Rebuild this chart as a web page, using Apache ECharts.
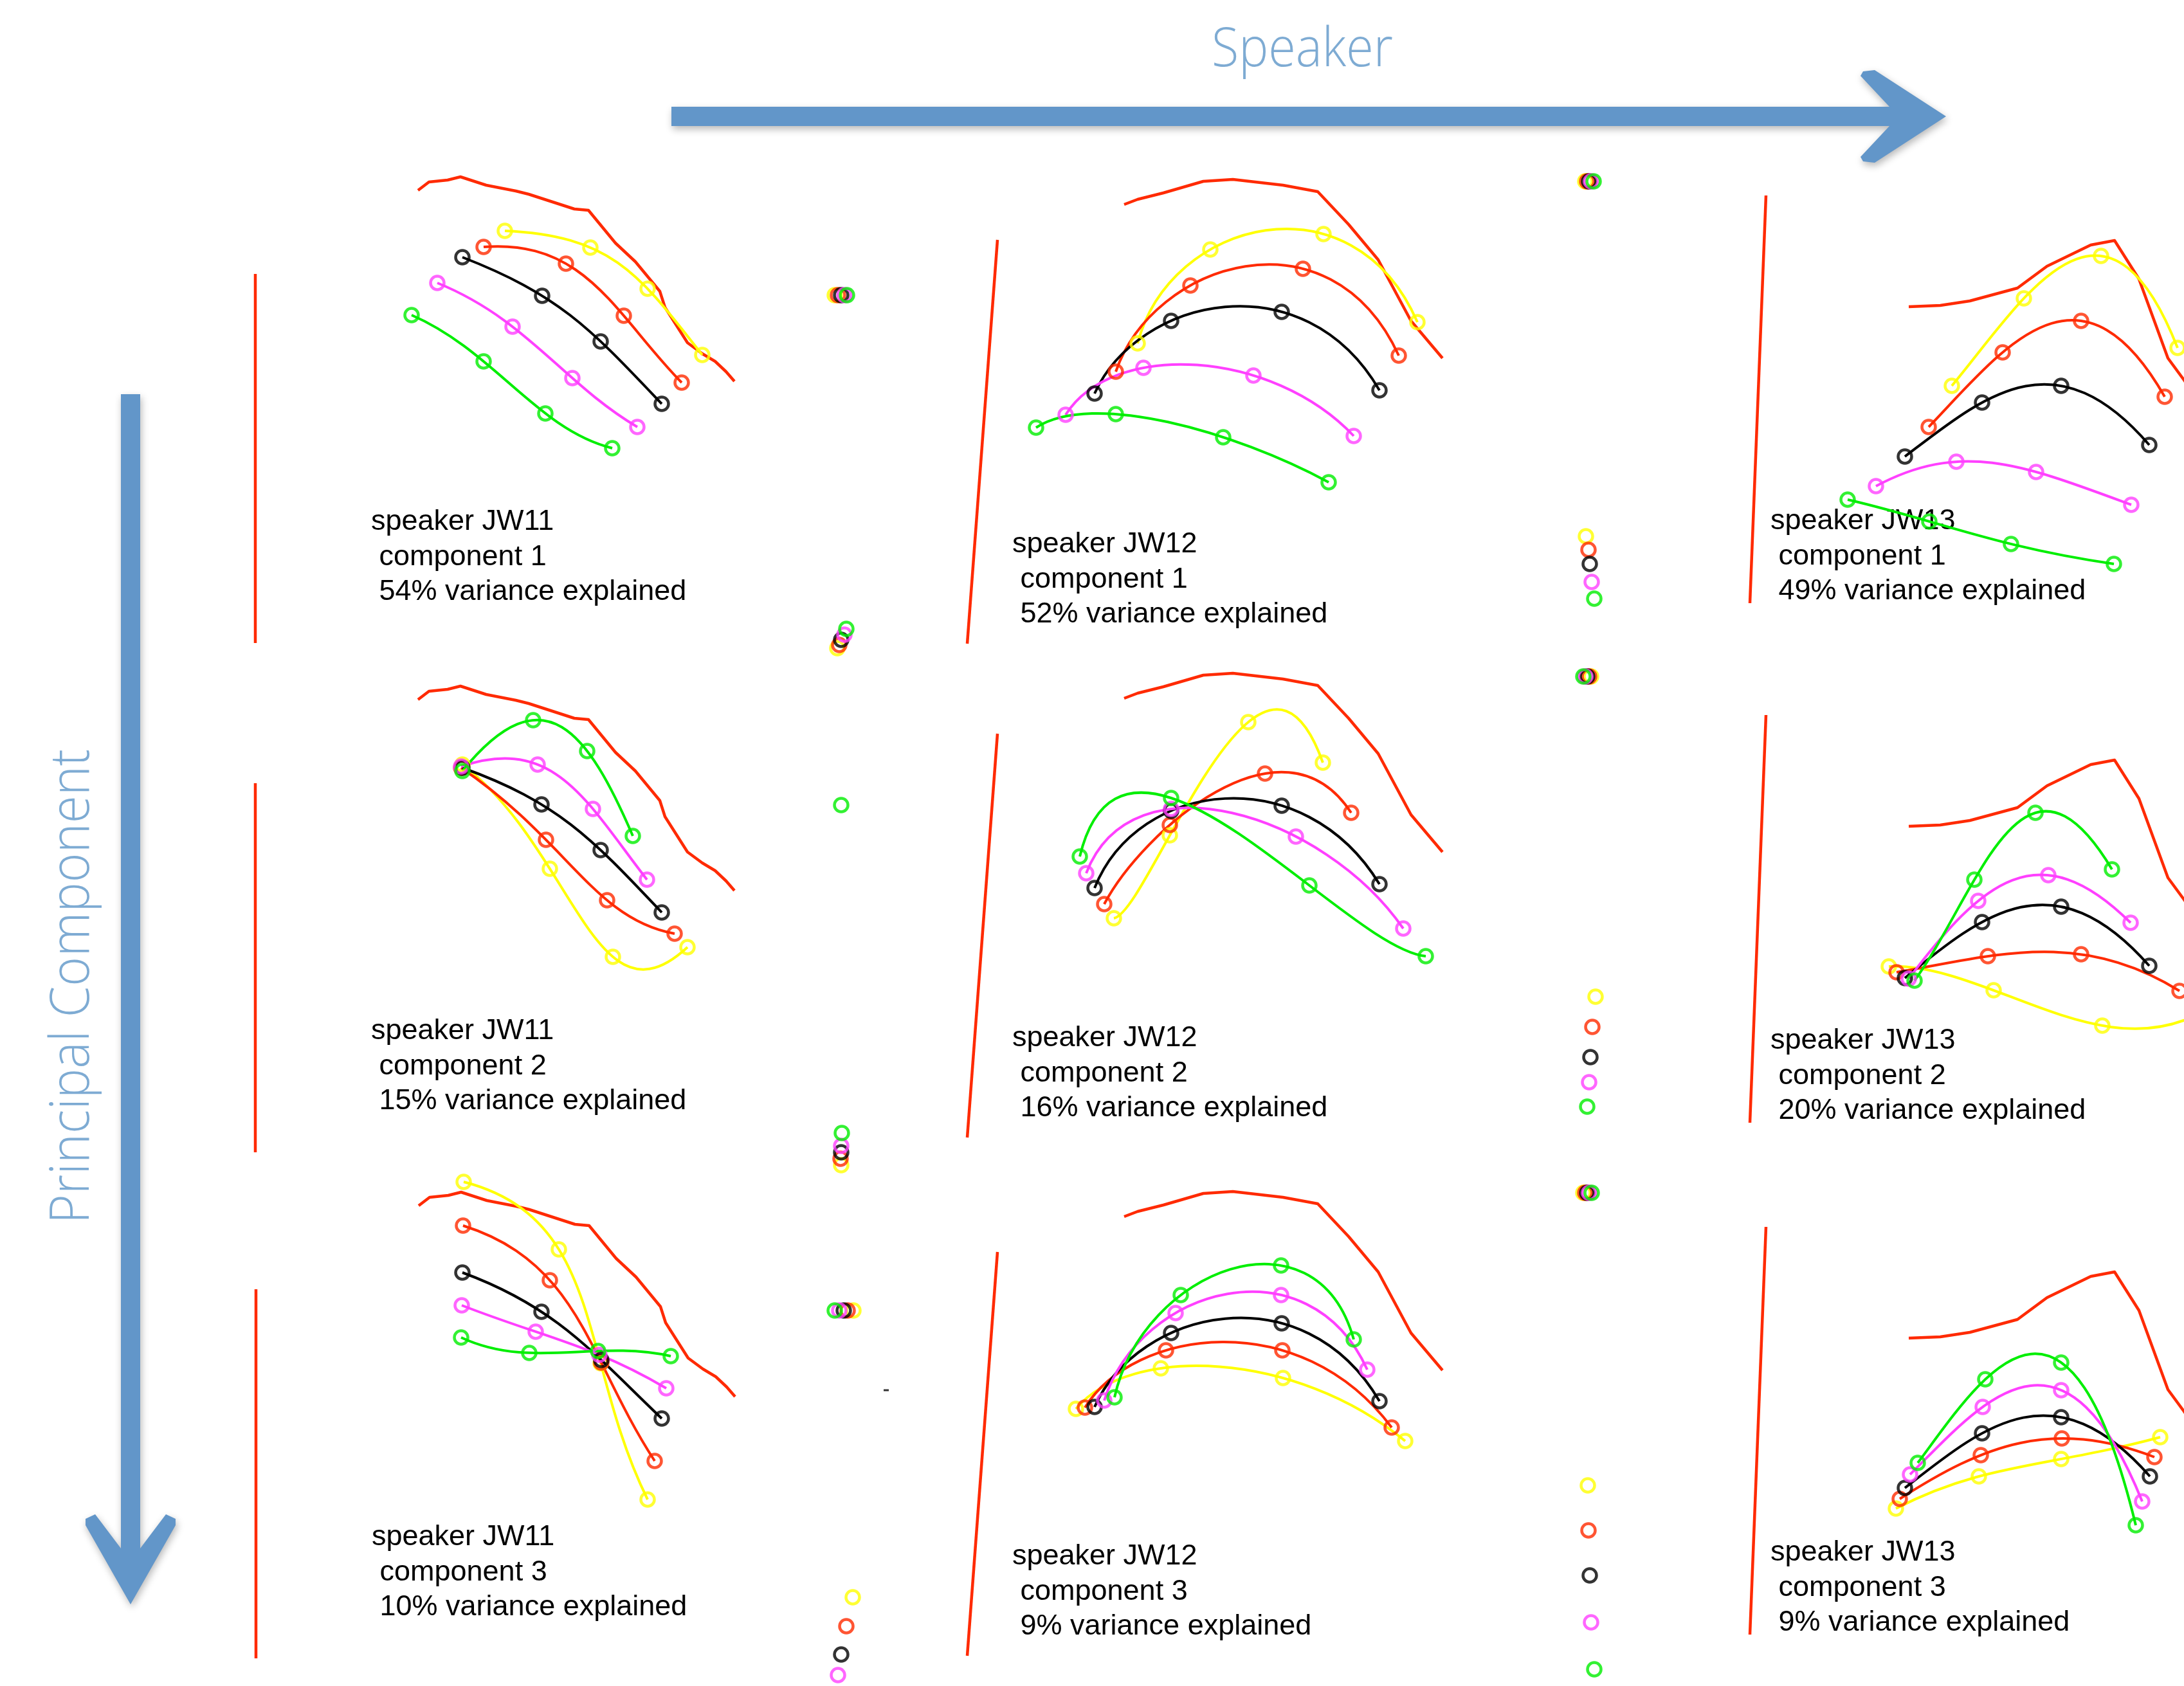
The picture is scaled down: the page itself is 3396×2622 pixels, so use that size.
<!DOCTYPE html>
<html>
<head>
<meta charset="utf-8">
<title>Tongue shape principal components by speaker</title>
<script src="https://cdn.jsdelivr.net/npm/echarts@6/dist/echarts.min.js"></script>
<style>
  html, body { margin: 0; padding: 0; background: #ffffff; }
  #chart { width: 3396px; height: 2622px; }
</style>
</head>
<body>
<div id="chart"></div>
<script>
// ---------------------------------------------------------------------------
// Data: tongue contours (4 fleshpoints) reconstructed from each principal
// component at -2, -1, 0, +1, +2 SD, plus each speaker's palate trace and
// rear pharyngeal reference line. Units are panel-local (pixels of the plot).
// ---------------------------------------------------------------------------
const SPEAKERS = ['JW11', 'JW12', 'JW13'];
const COMPONENTS = [1, 2, 3];
const SD_LEVELS = ['+2 SD', '+1 SD', 'mean', '-1 SD', '-2 SD'];

const VARIANCE_JW11 = [54, 15, 10];
const VARIANCE_JW12 = [52, 16, 9];
const VARIANCE_JW13 = [49, 20, 9];

const AXIS_TITLE_X = 'Speaker';
const AXIS_TITLE_Y = 'Principal Component';

// palate traces
const PALATE_JW11 = [[253,-130],[270,-143],[299,-146],[319,-151],[359,-138],[405,-129],[425,-124],[496,-101],[518,-99],[560,-48],[591,-19],[629,27],[637,52],[672,107],[695,124],[715,136],[732,152],[745,167]];
const PALATE_JW12 = [[197,-55],[218,-63],[258,-73],[320,-91],[366,-94],[444,-85],[498,-75],[546,-24],[592,31],[643,126],[692,184]];
const PALATE_JW13 = [[222,173],[271,171],[317,164],[391,144],[437,110],[505,77],[542,70],[580,130],[625,253],[650,287],[668,314]];

// rear reference lines
const BACK_JW11 = [[0,0],[0,574]];
const BACK_JW12 = [[0,0],[-47,628]];
const BACK_JW13 = [[0,0],[-25,634]];

// contours, one row per SD level (+2, +1, mean, -1, -2)
const JW11_PC1 = [
  [[388,-67],[521,-41],[610,23],[695,126]],
  [[355,-42],[483,-16],[573,65],[663,169]],
  [[322,-26],[446,34],[537,105],[632,202]],
  [[283,14],[400,82],[493,162],[594,238]],
  [[243,64],[355,136],[451,217],[555,271]]
];
const JW11_PC2 = [
  [[322,-29],[458,133],[556,270],[672,255]],
  [[320,-24],[452,88],[547,182],[652,234]],
  [[322,-24],[445,33],[537,104],[632,201]],
  [[320,-26],[439,-29],[525,40],[609,150]],
  [[322,-19],[432,-98],[516,-50],[587,82]]
];
const JW11_PC3 = [
  [[323,-167],[471,-62],[536,115],[609,327]],
  [[322,-99],[457,-14],[537,114],[620,267]],
  [[321,-26],[444,35],[537,110],[631,201]],
  [[320,25],[435,66],[534,102],[638,154]],
  [[319,75],[425,99],[532,96],[645,104]]
];
const JW12_PC1 = [
  [[218,161],[331,15],[507,-9],[653,128]],
  [[184,205],[300,71],[475,45],[624,180]],
  [[151,239],[270,126],[442,112],[594,234]],
  [[106,272],[227,199],[398,211],[554,305]],
  [[60,292],[184,271],[351,307],[515,377]]
];
const JW12_PC2 = [
  [[181,287],[268,158],[390,-18],[506,45]],
  [[166,265],[268,142],[416,62],[550,123]],
  [[151,240],[270,120],[442,112],[594,234]],
  [[138,217],[270,117],[464,160],[631,303]],
  [[128,191],[270,100],[485,236],[666,346]]
];
const JW12_PC3 = [
  [[122,244],[254,181],[444,196],[634,294]],
  [[136,242],[262,153],[443,153],[613,273]],
  [[151,241],[270,126],[442,111],[594,232]],
  [[166,231],[277,95],[441,67],[575,183]],
  [[182,226],[285,67],[441,21],[554,136]]
];
const JW13_PC1 = [
  [[289,296],[401,160],[521,94],[640,237]],
  [[253,360],[368,244],[490,195],[620,313]],
  [[216,406],[336,322],[459,296],[596,388]],
  [[171,452],[296,414],[420,430],[568,481]],
  [[127,473],[254,507],[381,542],[541,573]]
];
const JW13_PC2 = [
  [[191,391],[354,428],[523,483],[690,455]],
  [[203,400],[345,375],[490,372],[643,429]],
  [[216,409],[336,322],[459,298],[596,390]],
  [[222,410],[330,289],[439,249],[567,323]],
  [[231,413],[324,256],[419,152],[538,240]]
];
const JW13_PC3 = [
  [[202,438],[331,388],[459,361],[613,327]],
  [[208,423],[334,355],[460,329],[604,358]],
  [[216,406],[336,321],[459,296],[597,388]],
  [[224,385],[337,280],[459,254],[585,427]],
  [[236,367],[341,237],[459,211],[575,464]]
];

// isolated points lying outside the contour area: [x, y, SD level index]
const JW11_PC1_OUTLIERS = [[901,33,0],[906,33,1],[911,33,2],[916,33,3],[920,33,4],[905,582,0],[908,577,1],[911,569,2],[916,561,3],[919,552,4]];
const JW11_PC2_OUTLIERS = [[911,34,4],[911,594,0],[910,584,1],[911,574,2],[911,564,3],[912,544,4]];
const JW11_PC3_OUTLIERS = [[929,33,0],[920,33,1],[914,33,2],[907,33,3],[900,33,4],[928,479,0],[918,524,1],[910,568,2],[905,600,3]];
const JW11_PC3_DASH = [[980,157]];
const JW12_PC1_OUTLIERS = [[914,-91,0],[917,-91,1],[920,-91,2],[923,-91,3],[927,-91,4],[915,461,0],[919,482,1],[921,504,2],[924,532,3],[928,558,4]];
const JW12_PC2_OUTLIERS = [[923,-89,0],[920,-89,1],[917,-89,2],[914,-89,3],[911,-89,4],[930,409,0],[925,456,1],[922,503,2],[920,542,3],[917,580,4]];
const JW12_PC3_OUTLIERS = [[911,-92,0],[914,-92,1],[917,-92,2],[920,-92,3],[924,-92,4],[918,363,0],[919,433,1],[921,503,2],[923,576,3],[928,649,4]];
const JW13_PC1_OUTLIERS = [];
const JW13_PC2_OUTLIERS = [];
const JW13_PC3_OUTLIERS = [];

// ---------------------------------------------------------------------------
// Layout and styles
// ---------------------------------------------------------------------------
const PANEL_ORIGIN = {
  JW11: [[397, 426], [397, 1218], [398, 2005]],
  JW12: [[1551, 373], [1551, 1141], [1551, 1947]],
  JW13: [[2746, 304], [2746, 1112], [2746, 1908]]
};
const LABEL_OFFSET = { JW11: [180, 386], JW12: [23, 474], JW13: [7, 507] };
const LABEL_LINE_GAP = 54.5;
// panel axis extents (1 unit = 1 px); kept inside the canvas so scales stay 1:1
const X_RANGE = { JW11: [-100, 1000], JW12: [-100, 1000], JW13: [-100, 650] };
const Y_RANGE = [-200, 615];

const SD_COLORS = ['#ffff00', '#ff2a00', '#000000', '#ff40ff', '#00ee00'];
const PALATE_COLOR = '#ff2a00';
const ARROW_COLOR = '#6296c9';
const TITLE_COLOR = '#7eabd3';
const LABEL_FONT = '45px "Liberation Sans", Arial, Helvetica, sans-serif';
const TITLE_FONT_SIZE = 84;
const TITLE_FONT = '300 ' + TITLE_FONT_SIZE + 'px "Open Sans", Lato, sans-serif';
const CURVE_WIDTH = 4;
const MARKER_SIZE = 21;
const MARKER_BORDER = 4.5;

const PALATES = { JW11: PALATE_JW11, JW12: PALATE_JW12, JW13: PALATE_JW13 };
const BACKS = { JW11: BACK_JW11, JW12: BACK_JW12, JW13: BACK_JW13 };
const VARIANCES = { JW11: VARIANCE_JW11, JW12: VARIANCE_JW12, JW13: VARIANCE_JW13 };
const CURVES = {
  JW11: [JW11_PC1, JW11_PC2, JW11_PC3],
  JW12: [JW12_PC1, JW12_PC2, JW12_PC3],
  JW13: [JW13_PC1, JW13_PC2, JW13_PC3]
};
const OUTLIERS = {
  JW11: [JW11_PC1_OUTLIERS, JW11_PC2_OUTLIERS, JW11_PC3_OUTLIERS],
  JW12: [JW12_PC1_OUTLIERS, JW12_PC2_OUTLIERS, JW12_PC3_OUTLIERS],
  JW13: [JW13_PC1_OUTLIERS, JW13_PC2_OUTLIERS, JW13_PC3_OUTLIERS]
};

function textScale(text, font, targetWidth) {
  const ctx = document.createElement('canvas').getContext('2d');
  ctx.font = font;
  const w = ctx.measureText(text).width;
  return w > 0 ? targetWidth / w : 1;
}

// Derivative at t of the interpolating polynomial through (ts[i], vs[i]).
function polySlope(ts, vs, t) {
  let s = 0;
  for (let i = 0; i < ts.length; i++) {
    let d = 0;
    for (let j = 0; j < ts.length; j++) {
      if (j === i) continue;
      let term = 1 / (ts[i] - ts[j]);
      for (let m = 0; m < ts.length; m++) {
        if (m !== i && m !== j) term *= (t - ts[m]) / (ts[i] - ts[m]);
      }
      d += term;
    }
    s += vs[i] * d;
  }
  return s;
}

// Custom renderer: parametric cubic (uniform parameter, one step per
// fleshpoint) through the four points, drawn as one exact Bezier segment
// from the coordinates mapped by the panel's axes.
function splineRenderer(pts, color) {
  return function (params, api) {
    if (params.dataIndex !== 0) return null;
    const c = pts.map(function (p) { return api.coord(p); });
    const ts = c.map(function (p, i) { return i; });
    const T = ts[ts.length - 1];
    const xs = c.map(function (p) { return p[0]; });
    const ys = c.map(function (p) { return p[1]; });
    const h = T / 3;
    const p0 = c[0], p3 = c[c.length - 1];
    const cp1 = [p0[0] + h * polySlope(ts, xs, 0), p0[1] + h * polySlope(ts, ys, 0)];
    const cp2 = [p3[0] - h * polySlope(ts, xs, T), p3[1] - h * polySlope(ts, ys, T)];
    return {
      type: 'bezierCurve',
      shape: { x1: p0[0], y1: p0[1], cpx1: cp1[0], cpy1: cp1[1], cpx2: cp2[0], cpy2: cp2[1], x2: p3[0], y2: p3[1] },
      style: { stroke: color, lineWidth: CURVE_WIDTH, fill: null }
    };
  };
}

const grid = [], xAxis = [], yAxis = [], series = [], graphic = [];

SPEAKERS.forEach(function (spk) {
  COMPONENTS.forEach(function (pc, r) {
    const i = grid.length;
    const origin = PANEL_ORIGIN[spk][r];
    const ox = origin[0], oy = origin[1];
    const xr = X_RANGE[spk];
    grid.push({ left: ox + xr[0], top: oy + Y_RANGE[0], width: xr[1] - xr[0], height: Y_RANGE[1] - Y_RANGE[0], containLabel: false });
    xAxis.push({ gridIndex: i, type: 'value', min: xr[0], max: xr[1], show: false });
    yAxis.push({ gridIndex: i, type: 'value', min: Y_RANGE[0], max: Y_RANGE[1], inverse: true, show: false });

    const base = { xAxisIndex: i, yAxisIndex: i, clip: false, silent: true, animation: false };

    series.push(Object.assign({}, base, {
      name: spk + ' palate', type: 'line', data: PALATES[spk], symbol: 'none',
      lineStyle: { color: PALATE_COLOR, width: 4.5, join: 'round' }, z: 2
    }));
    series.push(Object.assign({}, base, {
      name: spk + ' rear', type: 'line', data: BACKS[spk], symbol: 'none',
      lineStyle: { color: PALATE_COLOR, width: 4.5 }, z: 2
    }));

    CURVES[spk][r].forEach(function (pts, k) {
      const label = spk + ' PC' + pc + ' ' + SD_LEVELS[k];
      series.push(Object.assign({}, base, {
        name: label + ' contour', type: 'custom', data: pts,
        encode: { x: 0, y: 1 },
        renderItem: splineRenderer(pts, SD_COLORS[k]), z: 3
      }));
      series.push(Object.assign({}, base, {
        name: label, type: 'scatter', data: pts, symbol: 'circle', symbolSize: MARKER_SIZE,
        itemStyle: { color: 'rgba(0,0,0,0)', borderColor: SD_COLORS[k], borderWidth: MARKER_BORDER },
        z: 4
      }));
    });

    const out = OUTLIERS[spk][r];
    if (out.length) {
      series.push(Object.assign({}, base, {
        name: spk + ' PC' + pc + ' outliers', type: 'scatter', symbol: 'circle', symbolSize: MARKER_SIZE,
        data: out.map(function (d) {
          return { value: [d[0], d[1]], itemStyle: { borderColor: SD_COLORS[d[2]] } };
        }),
        itemStyle: { color: 'rgba(0,0,0,0)', borderWidth: MARKER_BORDER }, z: 4
      }));
    }
    if (spk === 'JW11' && pc === 3) {
      series.push(Object.assign({}, base, {
        name: 'dash', type: 'scatter', symbol: 'rect', symbolSize: [8, 3],
        data: JW11_PC3_DASH, itemStyle: { color: '#000000' }
      }));
    }

    // panel caption
    const lab = LABEL_OFFSET[spk];
    const lines = ['speaker ' + spk, ' component ' + pc, ' ' + VARIANCES[spk][r] + '% variance explained'];
    lines.forEach(function (t, j) {
      graphic.push({
        type: 'text', x: ox + lab[0], y: oy + lab[1] + j * LABEL_LINE_GAP, silent: true,
        style: { text: t, font: LABEL_FONT, fill: '#000000',
                 textAlign: 'left', textVerticalAlign: 'middle', align: 'left', verticalAlign: 'middle' }
      });
    });
  });
});

// direction arrows with their titles
const arrowShadow = { shadowBlur: 12, shadowColor: 'rgba(0,0,0,0.28)', shadowOffsetX: 2, shadowOffsetY: 5 };
graphic.push({
  type: 'polygon', silent: true,
  shape: { points: [[1044,166],[2938,166],[2893,118],[2897,111],[2915,109],[3026,181],[2915,253],[2897,251],[2893,244],[2938,196],[1044,196]] },
  style: Object.assign({ fill: ARROW_COLOR }, arrowShadow)
});
graphic.push({
  type: 'polygon', silent: true,
  shape: { points: [[188,613],[218,613],[218,2408],[258,2355],[273,2362],[273,2372],[203,2495],[133,2372],[133,2362],[148,2355],[188,2408]] },
  style: Object.assign({ fill: ARROW_COLOR }, arrowShadow)
});
graphic.push({
  type: 'text', x: 2025, y: 79, silent: true,
  scaleX: textScale(AXIS_TITLE_X, TITLE_FONT, 282),
  style: { text: AXIS_TITLE_X, font: TITLE_FONT, fill: TITLE_COLOR,
           textAlign: 'center', textVerticalAlign: 'middle', align: 'center', verticalAlign: 'middle' }
});
graphic.push({
  type: 'text', x: 114, y: 1534, rotation: Math.PI / 2, silent: true,
  scaleX: textScale(AXIS_TITLE_Y, TITLE_FONT, 738),
  style: { text: AXIS_TITLE_Y, font: TITLE_FONT, fill: TITLE_COLOR,
           textAlign: 'center', textVerticalAlign: 'middle', align: 'center', verticalAlign: 'middle' }
});

const chart = echarts.init(document.getElementById('chart'), null, { renderer: 'canvas' });
chart.setOption({
  backgroundColor: '#ffffff',
  animation: false,
  grid: grid,
  xAxis: xAxis,
  yAxis: yAxis,
  series: series,
  graphic: { elements: graphic }
});
</script>
</body>
</html>
